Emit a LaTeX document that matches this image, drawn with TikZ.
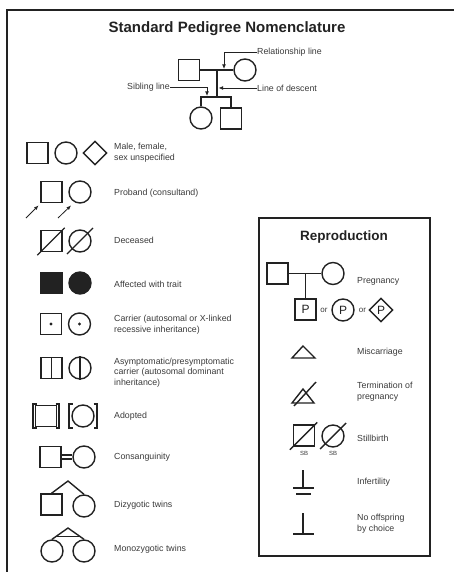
\documentclass[tikz,border=0pt]{standalone}
\usepackage{fontspec}
\setmainfont{Liberation Sans}
\usetikzlibrary{shapes.geometric,arrows.meta,calc}
\definecolor{ink}{HTML}{222222}
\definecolor{txt}{HTML}{3A3A3A}
\tikzset{
  sq/.style={draw=ink, rectangle, minimum size=21pt, inner sep=0pt, line width=1.4pt},
  ci/.style={draw=ink, circle, minimum size=22pt, inner sep=0pt, line width=1.4pt},
  dm/.style={draw=ink, diamond, minimum width=24pt, minimum height=24pt, inner sep=0pt, line width=1.4pt},
  lbl/.style={anchor=west, font=\fontsize{8.8}{11}\selectfont, text=txt, align=left, inner sep=0pt},
  ln/.style={draw=ink, line width=1.4pt},
  lead/.style={draw=ink, line width=0.8pt, -{Latex[length=4.5pt,width=3.8pt]}},
  ttl/.style={font=\bfseries\fontsize{15}{18}\selectfont, text=ink, inner sep=0pt},
  ortxt/.style={font=\fontsize{8}{10}\selectfont, text=txt, inner sep=0pt},
  ptxt/.style={font=\fontsize{12}{14}\selectfont, text=ink},
}
\begin{document}
\begin{tikzpicture}[x=1pt,y=-1pt]
\useasboundingbox (0,0) rectangle (454,572);
% outer frame
\draw[draw=ink, line width=1.6pt] (7,572) -- (7,10) -- (454,10);
\node[ttl] (title) at (227,29) {Standard Pedigree Nomenclature};

% ---------- top example pedigree ----------
\node[sq] (F) at (189,70) {};
\node[ci] (M) at (245,70) {};
\draw[ln] (F) -- (M);
\coordinate (dtop) at (217,70);
\coordinate (dbot) at (217,97);
\draw[ln] (dtop) -- (dbot);
\node[ci] (C1) at (201,118) {};
\node[sq] (C2) at (231,118.5) {};
\draw[ln] (C1.north) -- (C1.north |- dbot) -- (C2.north |- dbot) -- (C2.north);
\node[lbl] (rl) at (257,52) {Relationship line};
\coordinate (rlp) at (224,69);
\draw[lead] (rl.west) -| (rlp);
\node[lbl] (ld) at (257,88) {Line of descent};
\coordinate (ldp) at (218.5,88);
\draw[lead] (ld.west) -- (ldp);
\node[lbl, anchor=east] (sl) at (170,87) {Sibling line};
\coordinate (slp) at (207,96);
\draw[lead] (sl.east) -| (slp);

% ---------- left legend ----------
% male, female, unspecified
\node[sq] (r1a) at (37.5,153) {};
\node[ci] (r1b) at (66,153) {};
\node[dm] (r1c) at (95,153) {};
\node[lbl] (t1) at (114,153) {Male, female,\\sex unspecified};
% proband
\node[sq] (r2a) at (51.5,192) {};
\node[ci] (r2b) at (80,192) {};
\coordinate (p1s) at (26,218); \coordinate (p1e) at (38.5,205.5);
\coordinate (p2s) at (58,218); \coordinate (p2e) at (71,205.5);
\draw[lead] (p1s) -- (p1e);
\draw[lead] (p2s) -- (p2e);
\node[lbl] (t2) at (114,193) {Proband (consultand)};
% deceased
\node[sq] (r3a) at (51.5,241) {};
\node[ci] (r3b) at (80,241) {};
\draw[ln] ($(r3a.south west)+(-3,3)$) -- ($(r3a.north east)+(2,-2)$);
\draw[ln] (67,254) -- (93,228);
\node[lbl] (t3) at (114,240) {Deceased};
% affected
\node[sq, fill=ink] (r4a) at (51.5,283) {};
\node[ci, fill=ink] (r4b) at (80,283) {};
\node[lbl] (t4) at (114,284) {Affected with trait};
% carrier
\node[sq] (r5a) at (51,324) {};
\node[ci] (r5b) at (79.5,324) {};
\fill[ink] (r5a.center) circle (1.7);
\fill[ink] (r5b.center) circle (1.7);
\node[lbl] (t5) at (114,324.5) {Carrier (autosomal or X-linked\\recessive inheritance)};
% asymptomatic
\node[sq] (r6a) at (51.5,368) {};
\node[ci] (r6b) at (80,368) {};
\draw[ln] (r6a.north) -- (r6a.south);
\draw[ln] (r6b.north) -- (r6b.south);
\node[lbl, font=\fontsize{8.8}{10.6}\selectfont] (t6) at (114,372.5) {Asymptomatic/presymptomatic\\carrier (autosomal dominant\\inheritance)};
% adopted
\node[sq] (r7a) at (46,416) {};
\node[ci] (r7b) at (83,416) {};
\draw[ln] (36.5,404) -- (33,404) -- (33,428) -- (36.5,428);
\draw[ln] (55.5,404) -- (59,404) -- (59,428) -- (55.5,428);
\draw[ln] (72.5,404) -- (69,404) -- (69,428) -- (72.5,428);
\draw[ln] (93.5,404) -- (97,404) -- (97,428) -- (93.5,428);
\node[lbl] (t7) at (114,416) {Adopted};
% consanguinity
\node[sq] (r8a) at (50.5,457) {};
\node[ci] (r8b) at (84,457) {};
\draw[ln] ($(r8a.east)+(0,-2)$) -- ($(r8b.west)+(0,-2)$);
\draw[ln] ($(r8a.east)+(0,2)$) -- ($(r8b.west)+(0,2)$);
\node[lbl] (t8) at (114,457) {Consanguinity};
% dizygotic
\node[sq] (r9a) at (51.5,504.5) {};
\node[ci] (r9b) at (84,506) {};
\coordinate (dzap) at (68,481);
\draw[ln] (r9a.north) -- (dzap) -- (r9b.north);
\node[lbl] (t9) at (114,505) {Dizygotic twins};
% monozygotic
\node[ci] (r10a) at (52,551) {};
\node[ci] (r10b) at (84,551) {};
\coordinate (mzap) at (68,528);
\draw[ln] (r10a.north) -- (mzap) -- (r10b.north);
\draw[ln] ($(mzap)!0.75!(r10a.north)$) -- ($(mzap)!0.75!(r10b.north)$);
\node[lbl] (t10) at (114,549) {Monozygotic twins};

% ---------- Reproduction box ----------
\draw[draw=ink, line width=1.9pt] (259,218) rectangle (430,556);
\node[ttl, font=\bfseries\fontsize{13.5}{16}\selectfont] (rtitle) at (344,237) {Reproduction};
% pregnancy
\node[sq] (pf) at (277.5,273.5) {};
\node[ci] (pm) at (333,273.5) {};
\draw[ln] (pf) -- (pm);
\node[sq, ptxt] (pp1) at (305.5,309.5) {P};
\draw[ln] (pp1.north) -- (pp1.north |- pf.east);
\node[ortxt] (or1) at (324,310) {or};
\node[ci, ptxt] (pp2) at (343,310) {P};
\node[ortxt] (or2) at (362.5,310) {or};
\node[dm, ptxt] (pp3) at (381,310) {P};
\node[lbl] (tp) at (357,281) {Pregnancy};
% miscarriage
\draw[ln, line join=miter] (303,346) -- (292,358) -- (315,358) -- cycle;
\node[lbl] (tm) at (357,352) {Miscarriage};
% termination
\draw[ln, line join=miter] (303,389) -- (292,403) -- (314,403) -- cycle;
\draw[ln] (294,406) -- (316,382);
\node[lbl] (tt) at (357,392) {Termination of\\pregnancy};
% stillbirth
\node[sq] (sba) at (304,435.5) {};
\node[ci] (sbb) at (333,436) {};
\draw[ln] ($(sba.south west)+(-3,3)$) -- ($(sba.north east)+(2,-2)$);
\draw[ln] (320,449) -- (346,423);
\node[ortxt, font=\fontsize{6}{7}\selectfont] (sb1) at (304,453) {SB};
\node[ortxt, font=\fontsize{6}{7}\selectfont] (sb2) at (333,453) {SB};
\node[lbl] (ts) at (357,438) {Stillbirth};
% infertility
\draw[ln] (303,470) -- (303,488);
\draw[ln] (293,488) -- (314,488);
\draw[ln] (296,494) -- (311,494);
\node[lbl] (ti) at (357,482) {Infertility};
% no offspring
\draw[ln] (303,513) -- (303,534);
\draw[ln] (293,534) -- (314,534);
\node[lbl] (tn) at (357,523.5) {No offspring\\by choice};
\end{tikzpicture}
\end{document}
